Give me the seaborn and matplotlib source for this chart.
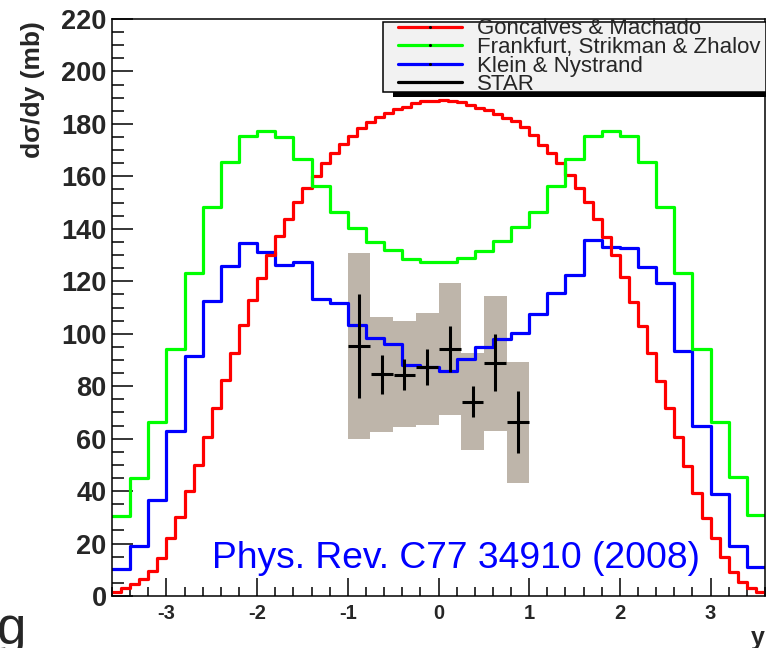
import numpy as np
import pandas as pd
import matplotlib
matplotlib.use("Agg")
import matplotlib.pyplot as plt
import seaborn as sns
from matplotlib.lines import Line2D
from matplotlib.patches import Rectangle
from matplotlib import patheffects
from matplotlib.ticker import MultipleLocator

# ---------------- data ----------------
edges_fine = [round(-3.6 + 0.1 * i, 2) for i in range(73)]     # 72 bins
edges_coarse = [round(-3.6 + 0.2 * i, 2) for i in range(37)]   # 36 bins

goncalves_machado = [
    1.4, 2.9, 4.6, 6.3, 9.7, 14.6, 22.2, 30.0, 40.0, 49.9,
    60.5, 71.5, 82.3, 92.8, 103.3, 112.8, 121.1, 130.0, 137.2, 143.7,
    150.3, 155.7, 160.1, 165.0, 168.8, 172.2, 175.4, 178.3, 180.8, 182.7,
    184.0, 185.5, 186.5, 187.8, 188.7, 188.7, 189.3, 188.7, 188.4, 187.2,
    186.2, 185.3, 183.7, 182.1, 181.0, 178.7, 175.7, 171.9, 168.8, 165.0,
    160.5, 155.4, 150.3, 143.6, 137.0, 130.0, 121.7, 112.2, 103.0, 92.8,
    82.0, 71.6, 60.5, 49.7, 39.4, 29.6, 22.0, 15.0, 9.3, 5.5,
    3.2, 1.7]

frankfurt_strikman_zhalov = [
    30.5, 45.1, 66.5, 94.0, 123.0, 148.4, 165.6, 175.4, 177.3, 175.1,
    166.6, 156.3, 146.5, 140.2, 135.1, 131.9, 128.4, 127.2, 127.2, 128.7,
    131.6, 135.5, 140.8, 146.3, 156.3, 166.5, 175.4, 177.3, 175.4, 165.3,
    148.2, 123.0, 94.0, 66.5, 45.5, 30.9]

klein_nystrand = [
    10.2, 19.2, 36.6, 62.9, 91.5, 112.6, 125.9, 134.5, 131.2, 126.2,
    127.4, 113.2, 111.6, 103.3, 98.2, 96.1, 88.1, 87.2, 85.8, 90.4,
    94.8, 97.9, 100.2, 107.6, 115.7, 122.5, 135.7, 133.2, 132.5, 125.3,
    119.2, 93.5, 64.8, 38.9, 19.2, 10.9]

star_y_center = [-0.875, -0.625, -0.375, -0.125, 0.125, 0.375, 0.625, 0.875]
star_value = [95.3, 84.6, 84.3, 87.2, 94.2, 74.1, 88.9, 66.2]
star_stat_err = [19.7, 7.4, 5.9, 6.8, 8.8, 5.9, 10.9, 11.8]
star_sys_low = [59.7, 62.6, 64.3, 65.1, 69.0, 55.7, 62.9, 43.2]
star_sys_high = [130.9, 106.5, 104.8, 108.0, 119.2, 92.5, 114.5, 89.3]
star_bin_width = 0.25

legend_labels = ["Goncalves & Machado", "Frankfurt, Strikman & Zhalov",
                 "Klein & Nystrand", "STAR"]
x_ticks = [-3, -2, -1, 0, 1, 2, 3]
y_ticks = list(range(0, 221, 20))

# ---------------- style ----------------
sns.set_style("white")
plt.rcParams["font.family"] = ["Liberation Sans", "DejaVu Sans"]

RED, GREEN, BLUE = "#ff0000", "#00ff00", "#0000ff"
LW = 2.3

W, H = 766, 648
fig = plt.figure(figsize=(W / 100, H / 100), dpi=100)
ax = fig.add_axes([112 / W, 1 - 596 / H, (765 - 112) / W, (596 - 19) / H])

# systematic error boxes
ax.bar(star_y_center,
       np.array(star_sys_high) - np.array(star_sys_low),
       bottom=star_sys_low, width=star_bin_width,
       color="#beb5aa", edgecolor="none", zorder=1)


def hist_frame(edges, values):
    e = np.asarray(edges, dtype=float)
    return pd.DataFrame({"y": (e[:-1] + e[1:]) / 2, "w": values})


sns.histplot(data=hist_frame(edges_coarse, klein_nystrand), x="y", weights="w",
             bins=edges_coarse, element="step", fill=False, color=BLUE,
             linewidth=LW, ax=ax, zorder=2)
sns.histplot(data=hist_frame(edges_fine, goncalves_machado), x="y", weights="w",
             bins=edges_fine, element="step", fill=False, color=RED,
             linewidth=LW, ax=ax, zorder=2.1)
sns.histplot(data=hist_frame(edges_coarse, frankfurt_strikman_zhalov), x="y", weights="w",
             bins=edges_coarse, element="step", fill=False, color=GREEN,
             linewidth=LW, ax=ax, zorder=2.2)

ax.errorbar(star_y_center, star_value, yerr=star_stat_err, xerr=0.12,
            fmt="none", ecolor="black", elinewidth=2.2, capsize=0, zorder=3)

ax.set_xlim(-3.6, 3.6)
ax.set_ylim(0, 220)

# frame & ticks
for s in ax.spines.values():
    s.set_visible(True)
    s.set_color("black")
    s.set_linewidth(1.1)

ax.set_xticks(x_ticks, labels=[str(t) for t in x_ticks], fontweight="bold")
ax.set_yticks(y_ticks, labels=[str(t) for t in y_ticks], fontweight="bold")
ax.xaxis.set_minor_locator(MultipleLocator(0.2))
ax.yaxis.set_minor_locator(MultipleLocator(5))
ax.tick_params(which="both", direction="in", top=False, right=False,
               bottom=True, left=True, width=1.1, color="black")
ax.tick_params(axis="y", which="major", length=15, pad=3.8, labelsize=19.5)
ax.tick_params(axis="y", which="minor", length=8.5)
ax.tick_params(axis="x", which="major", length=13, pad=6.0, labelsize=14.5)
ax.tick_params(axis="x", which="minor", length=6.5)

# axis titles
ax.set_ylabel("dσ/dy (mb)", fontsize=19, fontweight="bold")
ax.yaxis.set_label_coords((33 - 112) / 653, 1 - (21 - 19) / 577)
ax.yaxis.label.set(ha="right", va="center", rotation_mode="anchor")
ax.set_xlabel("y", fontsize=18, fontweight="bold")
ax.xaxis.set_label_coords(1.0, (596 - 626) / 577)
ax.xaxis.label.set(ha="right", va="top")

# annotation
ax.text(-2.5, 10.6, "Phys. Rev. C77 34910 (2008)", color=BLUE, fontsize=26.8,
        ha="left", va="baseline", zorder=4)
fig.text(-0.004, 4 / H, "g", fontsize=38, ha="left", va="baseline")

# legend (ROOT style box with shadow)
box = Rectangle((383.3 / W, 1 - 92.3 / H), (765.5 - 383.3) / W, (92.3 - 21.7) / H,
                transform=fig.transFigure, facecolor="#f2f2f2", edgecolor="black",
                lw=1.1, clip_on=False, zorder=5.5)
box.set_path_effects([patheffects.SimplePatchShadow(offset=(7.2, -3.4),
                                                    shadow_rgbFace="black", alpha=1.0),
                      patheffects.Normal()])
ax.add_patch(box)

handles = [Line2D([], [], color=c, lw=LW, marker="o", ms=1.2, mfc="black", mec="black")
           for c in (RED, GREEN, BLUE, "black")]
leg = ax.legend(handles, legend_labels, loc="upper left",
                bbox_to_anchor=(398 / W, 1 - 18.5 / H), bbox_transform=fig.transFigure,
                frameon=False, prop={"family": "Liberation Sans", "size": 16},
                handlelength=2.88, handletextpad=0.68, labelspacing=-0.11,
                borderpad=0, borderaxespad=0)
leg.set_zorder(6)

fig.savefig("out.png", dpi=100)
